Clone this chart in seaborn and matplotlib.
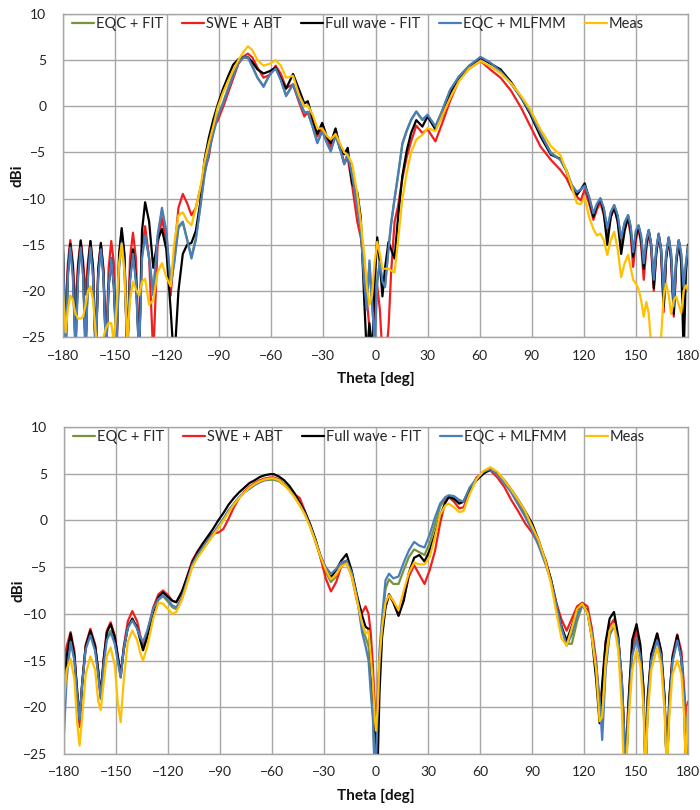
import matplotlib
matplotlib.use("Agg")
import matplotlib.pyplot as plt
import pandas as pd
import seaborn as sns

# ---------------- data: top panel ----------------
theta_top = [
    -180, -178.5, -177.2, -175.8, -174.3, -172.8, -171.3, -169.8, -168.4, -167,
    -165.6, -164.2, -162.7, -161.2, -159.7, -158.2, -156.7, -155.2, -153.7, -152.2,
    -150.7, -149.2, -147.7, -146.2, -144.6, -143, -141.4, -139.7, -138, -136.2,
    -134.5, -132.7, -130.4, -128, -125.5, -123, -120.5, -118,
    -116, -113.5, -111, -108.5, -106, -103.5, -101, -98.5, -96, -93.5,
    -91, -88, -85, -82, -79, -76, -73.5, -71, -68, -64.5,
    -61, -57.5, -54.5, -51.5, -47.5, -44, -41, -39, -36, -33.5,
    -30.7, -28, -25.8, -23, -20.5, -18, -16, -13.5, -10.5,
    -8.5, -6.5, -5, -3.5, -2, -0.5, 1, 2.5, 4, 5.5,
    7.5, 9, 11, 13, 15.5, 18, 20.5, 23.5, 27, 30,
    34.5, 38.5, 43, 48, 54, 60.5, 66, 72, 78, 84,
    89, 95, 101, 106.5, 110, 113,
    116, 118.3, 120.5, 123, 125.5, 127.5, 129.5, 131.5, 133.5, 135.5,
    137.5, 139.5, 141.5, 143.5, 145.5, 147, 148.4, 150, 151.5, 153,
    154.5, 156, 157.4, 158.8, 160.3, 161.7, 163.1, 164.5, 166, 167.4,
    168.9, 170.3, 171.8, 173.2, 174.7, 176.1, 177.5, 178.8, 180]

eqc_fit_top = [
    -15.6, -26, -18.3, -15.2, -18.3, -26, -18.3, -15.2, -18.3, -26,
    -18.3, -15.2, -18.3, -26, -18.3, -15.4, -18.3, -26, -19.3, -16.4,
    -19.3, -26, -17.3, -14.6, -17.3, -26, -18.8, -15.8, -18.8, -26,
    -16.3, -13.8, -16.3, -20.3, -14.2, -11.3, -13.7, -19.3,
    -17, -13.2, -12.6, -14.4, -16.3, -14.3, -11, -7.3, -4.8, -2.9,
    -1.1, 0.3, 1.9, 3.4, 4.7, 5.3, 5.3, 4.4, 3.1, 2.2,
    3.4, 4.2, 2.9, 1.2, 2.4, 0.6, -0.6, -0.7, -2.3, -3.9,
    -2.6, -3.9, -4.8, -3.1, -4.5, -6.2, -5.1, -7.4, -10.8,
    -13.3, -18.8, -22, -17, -21.5, -25, -19, -17, -19.2, -19.4,
    -15.3, -12.6, -10, -7.4, -4.1, -2.7, -1.5, -0.6, -1.5, -1.0,
    -2.2, -0.5, 1.7, 3.2, 4.4, 5.3, 4.7, 3.8, 2.5, 0.9,
    -0.6, -2.9, -5.0, -5.8, -7.0, -8.6,
    -9.3, -9.0, -8.6, -9.8, -11.7, -10.6, -10, -11.1, -13.4, -11.5,
    -10.7, -11.9, -14.5, -12.6, -11.8, -13.1, -16, -13.5, -12.9, -14.1,
    -17.2, -14.5, -13.4, -15, -19, -15.5, -13.8, -15.5, -20.5, -16,
    -14.2, -16, -21.8, -16.5, -14.5, -16, -19.8, -17, -15.3]

swe_abt_top = [
    -24.3, -22, -17, -14.5, -17, -22, -17, -14.5, -16.8, -20.4,
    -16.8, -14.6, -17.5, -27, -17.5, -14.9, -17.5, -27, -17.5, -14.6,
    -17, -27, -16.5, -13.5, -16.5, -27, -16.5, -13.7, -16.5, -27,
    -15.5, -13, -16.5, -27, -15, -12.2, -14.5, -20.5,
    -16, -11, -9.5, -10.5, -11.8, -11, -9, -7, -5.5, -2.3,
    -1.6, -0.2, 1.4, 3.0, 4.6, 5.4, 5.7, 5.3, 4.2, 3.1,
    3.4, 4.4, 3.5, 2.0, 2.35, 0.4, -1.1, -0.6, -1.8, -3.25,
    -2.2, -3.5, -4.35, -2.5, -4.3, -6.2, -5.6, -8.5, -12.5,
    -14.2, -16.5, -21, -24, -27, -22, -19.5, -22, -27, -28,
    -24, -18, -12.5, -10.8, -7.8, -5.5, -3.8, -2.1, -2.9, -2.5,
    -3.8, -1.8, 0.6, 2.8, 4.1, 4.9, 4.0, 3.1, 1.7, -0.2,
    -2.1, -4.35, -5.8, -6.9, -7.8, -9.0,
    -9.8, -10.2, -9.0, -10.5, -12.3, -11.2, -10.4, -11.8, -14, -12,
    -11, -12.5, -15, -13, -12.2, -14, -17.4, -14.5, -13.2, -15,
    -18.8, -15.5, -13.6, -15.5, -20, -16, -13.9, -16, -22.3, -16.5,
    -14.3, -16.8, -22.8, -17, -14.6, -16.5, -19.8, -17.5, -16.1]

full_wave_top = [
    -15.0, -27, -18, -14.9, -17.5, -26, -17.5, -14.6, -17.5, -27,
    -17.5, -14.6, -17.5, -27, -17.8, -14.8, -18, -27, -19.5, -16.5,
    -19.5, -26, -16, -13.2, -16, -27, -18.5, -15.5, -18.5, -27,
    -13.5, -10.4, -12.5, -17.5, -14.5, -13.3, -15.5, -22,
    -28, -20, -16, -15, -14.8, -13.5, -10.5, -5.8, -3.4, -1.5,
    0.1, 1.8, 3.2, 4.5, 5.1, 5.3, 5.3, 4.8, 4.0, 3.55,
    3.8, 4.2, 3.0, 1.9, 3.5, 1.8, 0.3, 0.55, -1.5, -3.0,
    -1.8, -3.3, -4.0, -2.4, -4.6, -5.2, -4.5, -8.4, -9.3,
    -12, -21, -27, -23.5, -27, -19, -14.2, -17, -20.6, -17.5,
    -14.7, -15.5, -16.5, -12, -7.5, -4.8, -2.9, -1.5, -2.2, -1.1,
    -2.5, -1.0, 1.4, 3.1, 4.3, 5.25, 4.65, 4.0, 2.65, 0.9,
    -0.8, -3.25, -5.25, -5.7, -7.0, -8.8,
    -9.6, -9.0, -8.35, -10, -12, -10.8, -10, -11.5, -15, -12,
    -10.9, -12.5, -16, -13.5, -12, -13.5, -16.3, -14, -13, -14.5,
    -17.6, -15, -13.5, -15, -19.7, -16, -13.9, -15.5, -21.7, -16.5,
    -14.3, -16.5, -22.5, -17, -14.6, -17, -27, -18, -15]

eqc_mlfmm_top = [
    -15.8, -27, -18.5, -15.3, -18.5, -27, -18.5, -15.3, -18.5, -27,
    -18.5, -15.3, -18.5, -27, -18.5, -15.5, -18.5, -27, -19.5, -16.5,
    -19.5, -27, -17.5, -14.8, -17.5, -27, -19, -16, -19, -27,
    -16.5, -14, -16.5, -20.5, -14, -11, -13.5, -19.5,
    -17, -13, -12.5, -14.5, -16.5, -14.5, -11, -7.5, -5, -3,
    -1.2, 0.2, 1.8, 3.3, 4.7, 5.3, 5.3, 4.3, 3.1, 2.1,
    3.4, 4.1, 2.8, 1.1, 2.35, 0.6, -0.7, -0.6, -2.4, -4.0,
    -2.7, -4.0, -4.9, -3.2, -4.6, -6.3, -5.2, -7.5, -11,
    -13.5, -19, -22, -16.7, -21, -26, -19, -16.8, -19, -19.6,
    -15.5, -12.8, -10, -7.5, -4.0, -2.6, -1.45, -0.55, -1.45, -0.9,
    -2.2, -0.4, 1.8, 3.2, 4.4, 5.35, 4.75, 3.8, 2.5, 0.9,
    -0.6, -2.9, -5.1, -5.8, -7.0, -8.5,
    -9.3, -9.0, -8.6, -9.8, -11.6, -10.6, -10, -11, -13.2, -11.5,
    -10.7, -11.8, -14.3, -12.6, -11.8, -13, -15.8, -13.5, -12.9, -14,
    -17, -14.5, -13.4, -15, -18.8, -15.5, -13.8, -15.5, -20.3, -16,
    -14.2, -16, -21.7, -16.5, -14.5, -16, -19.6, -17, -15.2]

meas_top = [
    -20, -24.5, -22, -20.5, -21, -22.5, -23, -23, -22.8, -21.5,
    -20, -19.5, -21, -24.5, -27, -27, -25, -24, -23.5, -23.5,
    -25.5, -22, -17, -14.9, -18, -25.5, -21, -19, -19.8, -20.5,
    -19, -18.7, -21.5, -21, -18, -17, -18.5, -19.5,
    -15, -11.8, -11.5, -12.4, -12.9, -11, -9, -6, -4, -2.2,
    -0.2, 1.4, 2.7, 3.9, 5.0, 5.9, 6.5, 6.1, 5.0, 4.4,
    4.6, 5.0, 4.4, 3.1, 3.3, 1.2, 0.0, 0.1, -1.0, -2.4,
    -2.4, -3.2, -3.6, -3.0, -4.0, -5.0, -5.3, -6.2, -9.5,
    -12.5, -16, -19.5, -21.5, -20.5, -17, -14.7, -16, -17.6, -17.6,
    -17.6, -17.8, -18, -14.5, -10, -7.2, -5.0, -3.6, -3.1, -2.35,
    -2.7, -1.0, 0.9, 2.7, 4.1, 4.9, 4.35, 3.6, 2.5, 1.1,
    -0.3, -2.5, -4.3, -5.3, -7.0, -8.7,
    -10.5, -10.6, -9.9, -12, -13.3, -14, -13.8, -14.5, -16.1, -14.5,
    -13.6, -15.5, -18.5, -17, -16.1, -17.5, -18.8, -19.2, -19.8, -21,
    -22.8, -21.2, -22.5, -26, -28, -28, -28, -25, -20.5, -19.2,
    -20.5, -22.5, -21, -20.6, -21.5, -22.4, -20, -19.4, -19.9]

# ---------------- data: bottom panel ----------------
theta_bot = [
    -180, -178.5, -176.2, -174, -172.5, -171, -169.5, -167.5, -164.8, -162,
    -160.3, -158.8, -157.2, -155.3, -153.1, -150.7, -149, -147.3, -145.5, -143.2,
    -140.6, -137.8, -136, -134.4, -132, -128.5, -125.5, -122.9, -120, -117.5,
    -115.2, -112, -109,
    -106, -103, -100, -97, -94, -91, -88, -85, -82, -79,
    -76, -73, -70, -67, -64, -61, -59, -56, -53, -50,
    -47, -44, -41, -38, -35, -32, -29, -26, -23, -20,
    -17, -14, -11, -8,
    -6, -4.3, -3, -1.8, -0.8, 0, 1, 2, 3.5, 5.5,
    7.5, 10, 13, 16, 19, 22, 25, 28, 31, 34,
    37, 40, 42, 45, 48, 50.5,
    54, 58, 62, 66, 70, 74, 78, 82, 86, 90,
    94, 98, 101, 104, 107, 110, 113, 116, 119, 122,
    124.5, 127, 129, 130.5, 132.5, 134.8, 137.3, 139.8, 141.8, 143,
    144.2, 145.5, 147.8, 150.3, 152.5, 154.3, 155.5, 156.7, 158.8, 162.2,
    164.5, 166.5, 167.8, 169.2, 171, 173.8, 176.2, 177.8, 178.8, 180]

eqc_fit_bot = [
    -19.6, -16, -12.6, -14.8, -18.3, -21, -17.3, -13.6, -12.1, -13.8,
    -16.3, -18.8, -15.3, -12.5, -11.8, -13, -14.8, -16.6, -13.6, -11.3,
    -10.6, -11.5, -12.5, -13.1, -12, -9.6, -8.5, -8.1, -8.7, -9.3,
    -9.5, -8.4, -6.6,
    -4.8, -3.9, -3.1, -2.3, -1.6, -0.8, 0.1, 1.0, 1.7, 2.4,
    3.0, 3.4, 3.8, 4.1, 4.3, 4.35, 4.35, 4.2, 3.8, 3.3,
    2.6, 1.8, 0.8, -0.6, -2.2, -4.0, -5.5, -6.6, -6.0, -4.8,
    -4.3, -5.6, -8.2, -11.5,
    -12.5, -13.5, -17, -21, -26, -27, -21, -15.5, -11, -7.3,
    -6.3, -6.8, -6.8, -5.3, -3.9, -3.1, -3.4, -3.7, -2.4, -0.5,
    1.5, 2.3, 2.6, 2.4, 2.0, 2.0,
    3.4, 4.4, 5.1, 5.5, 5.0, 4.2, 3.2, 1.9, 0.6, -0.8,
    -2.6, -4.6, -6.3, -8.8, -11.2, -13.2, -13.2, -10.8, -9.1, -9.8,
    -12.2, -15.5, -19.5, -21.5, -15.5, -12, -11.1, -12.8, -17, -22,
    -27, -21, -14.2, -12.3, -14.2, -18.5, -27, -20, -14.8, -12.6,
    -14.3, -19.3, -27, -20, -15, -12.6, -14.6, -19, -22, -21.5]

swe_abt_bot = [
    -15, -13.5, -11.95, -14, -18.5, -22.1, -17.5, -13.3, -11.6, -13.3,
    -16, -19.1, -15, -11.8, -10.9, -12.3, -14.5, -16.8, -13.5, -10.8,
    -9.7, -10.8, -12.3, -13.4, -12, -9.3, -7.9, -7.5, -8.0, -8.6,
    -8.75, -7.8, -6.0,
    -4.3, -3.3, -2.5, -1.8, -1.4, -1.3, -0.9, 0.2, 1.4, 2.4,
    3.1, 3.6, 4.0, 4.3, 4.5, 4.6, 4.6, 4.4, 3.9, 3.3,
    2.8, 2.4, 1.0, -0.5, -2.0, -4.0, -6.2, -7.6, -6.6, -4.9,
    -4.5, -6.0, -8.6, -9.9,
    -9.2, -10, -12.1, -15.5, -19.5, -22, -19, -15, -11.2, -9.2,
    -8.0, -8.8, -10.2, -8.4, -6.0, -4.8, -5.8, -6.8, -5.3, -3.3,
    -0.3, 2.0, 2.5, 2.0, 1.3, 1.4,
    3.0, 4.6, 5.1, 5.35, 4.6, 3.6, 2.2, 1.0, -0.3, -1.3,
    -2.6, -4.3, -6.4, -8.8, -10.6, -11.8, -10.5, -9.2, -8.8, -9.2,
    -11.5, -15, -20.5, -18, -13, -11.3, -10.6, -12.8, -17, -22,
    -27, -20, -13.5, -11.8, -13.8, -18, -27, -19.5, -14.5, -12.1,
    -14, -19, -27, -19.5, -14.5, -12.2, -14, -18, -21, -19.4]

full_wave_bot = [
    -18.2, -14.6, -12.1, -14.5, -18, -21.4, -17.5, -13.5, -11.8, -13.5,
    -16, -18.7, -15, -12, -11.1, -12.5, -14.5, -16.4, -13.8, -11.5,
    -10.5, -11.5, -12.8, -13.9, -12.5, -9.8, -8.2, -7.7, -8.2, -8.6,
    -8.75, -7.6, -6.1,
    -4.5, -3.4, -2.5, -1.7, -0.9, 0.0, 0.8, 1.7, 2.4, 3.0,
    3.5, 4.0, 4.3, 4.65, 4.85, 4.95, 4.95, 4.7, 4.3, 3.7,
    2.9, 1.9, 0.9, -0.4, -2.0, -3.8, -5.3, -6.1, -5.3, -4.3,
    -3.6, -5.4, -8.0, -10.2,
    -11.4, -11.6, -14.5, -18.5, -22, -23.5, -26, -18.5, -12.5, -9.3,
    -7.9, -8.7, -10.2, -8.6, -5.6, -4.0, -3.7, -4.4, -3.2, -1.5,
    0.5, 1.9, 2.5, 2.3, 1.8, 2.0,
    3.3, 4.3, 5.0, 5.5, 5.1, 4.3, 3.3, 2.2, 1.0, -0.3,
    -2.2, -4.5, -6.4, -9.0, -11.4, -12.85, -11.3, -9.6, -8.9, -9.8,
    -12.5, -17, -21.7, -17.5, -13, -10.5, -9.8, -12.5, -17.5, -22,
    -27, -20, -12.8, -11.1, -13.3, -18, -27, -19, -14.3, -12.1,
    -14, -19, -27, -19, -14.8, -12.3, -14.8, -20, -27, -21]

eqc_mlfmm_bot = [
    -22.8, -17, -13, -15, -18.5, -21.4, -17.5, -13.8, -12.3, -14,
    -16.5, -19.1, -15.5, -12.8, -12, -13.2, -15, -16.8, -13.8, -11.5,
    -10.7, -11.6, -12.5, -13, -11.8, -9.5, -8.4, -8.0, -8.5, -9.1,
    -9.3, -8.3, -6.5,
    -4.7, -3.7, -2.9, -2.1, -1.4, -0.6, 0.2, 1.1, 1.8, 2.5,
    3.0, 3.4, 3.8, 4.1, 4.35, 4.45, 4.45, 4.3, 3.9, 3.3,
    2.5, 1.7, 0.7, -0.6, -2.2, -3.8, -5.0, -5.7, -5.2, -4.5,
    -4.3, -5.6, -8.2, -12,
    -13.5, -15, -18.5, -21, -27, -26, -20, -14, -10.4, -6.4,
    -5.7, -6.2, -6.0, -4.5, -3.2, -2.3, -2.7, -2.9, -1.5, 0.3,
    1.8, 2.5, 2.7, 2.6, 2.2, 2.0,
    3.5, 4.5, 5.2, 5.5, 4.9, 4.0, 3.0, 1.7, 0.4, -1.0,
    -2.8, -4.8, -6.5, -9.0, -11.5, -13.4, -12.2, -10.2, -9.1, -9.8,
    -12, -15.5, -19, -23.5, -16, -12.3, -11.3, -12.8, -17, -22,
    -27, -21, -14.5, -12.7, -14.5, -19, -27, -20, -15, -12.85,
    -14.5, -19.5, -27, -20, -15.2, -12.85, -14.8, -19, -22, -22.5]

meas_bot = [
    -19.3, -16, -14.8, -17, -21.5, -24.1, -21, -16.5, -14.55, -16,
    -19.3, -20.3, -17.5, -14.5, -13.6, -15.5, -19.5, -21.6, -17, -13,
    -11.8, -12.8, -14.2, -15, -13.5, -10.5, -8.8, -8.9, -9.5, -10,
    -9.8, -8.5, -6.8,
    -5.0, -4.0, -3.2, -2.4, -1.6, -0.8, 0.0, 0.9, 1.7, 2.4,
    3.0, 3.5, 3.9, 4.2, 4.4, 4.5, 4.5, 4.3, 3.8, 3.2,
    2.5, 1.6, 0.6, -0.7, -2.2, -3.9, -5.3, -6.3, -5.8, -4.9,
    -4.6, -6.0, -8.5, -11,
    -12.1, -11.8, -14.5, -17.5, -21, -22.5, -20, -15, -11.5, -8.8,
    -8.0, -8.6, -9.6, -7.5, -5.6, -4.5, -4.7, -4.7, -3.9, -1.8,
    0.6, 1.6, 1.8, 1.4, 0.9, 1.0,
    2.8, 4.4, 5.3, 5.7, 5.2, 4.3, 3.3, 2.2, 1.0, -0.6,
    -2.2, -4.5, -6.8, -9.8, -12.6, -13.4, -11.5, -9.5, -8.9, -9.9,
    -12.5, -16, -21.5, -21, -15, -11.8, -11.1, -14, -20, -27,
    -27, -22, -16, -13.9, -15.5, -20, -27, -21, -16, -13.6,
    -15.5, -20.5, -27, -21, -16.5, -15, -16.5, -21, -27, -19.9]

series_names = ["EQC + FIT", "SWE + ABT", "Full wave - FIT", "EQC + MLFMM", "Meas"]
series_colors = ["#77933C", "#F01E1E", "#000000", "#4A7EBB", "#FFC000"]
x_ticks = [-180, -150, -120, -90, -60, -30, 0, 30, 60, 90, 120, 150, 180]
y_ticks = [-25, -20, -15, -10, -5, 0, 5, 10]

top_series = [eqc_fit_top, swe_abt_top, full_wave_top, eqc_mlfmm_top, meas_top]
bot_series = [eqc_fit_bot, swe_abt_bot, full_wave_bot, eqc_mlfmm_bot, meas_bot]

# ---------------- plotting ----------------
sns.set_style("white")
plt.rcParams["font.family"] = ["Lato", "DejaVu Sans"]

fig = plt.figure(figsize=(7.0, 8.1), dpi=100)
ax_top = fig.add_axes([63 / 700, 1 - 337 / 810, 625 / 700, 323 / 810])
ax_bot = fig.add_axes([64 / 700, 1 - 754 / 810, 624 / 700, 327 / 810])

grid_col = "#A6A6A6"

for ax, theta, series in [(ax_top, theta_top, top_series), (ax_bot, theta_bot, bot_series)]:
    for name, col, vals in zip(series_names, series_colors, series):
        df = pd.DataFrame({"theta": theta, "dBi": vals})
        sns.lineplot(data=df, x="theta", y="dBi", ax=ax, color=col, label=name,
                     linewidth=1.6, estimator=None, sort=False)
    ax.set_xlim(-180, 180)
    ax.set_ylim(-25, 10)
    ax.set_xticks(x_ticks)
    ax.set_yticks(y_ticks)
    ax.grid(True, color=grid_col, linewidth=1.0)
    ax.set_axisbelow(True)
    for sp in ax.spines.values():
        sp.set_color(grid_col)
        sp.set_linewidth(1.0)
    ax.tick_params(axis="both", which="major", length=4, width=1.0, color=grid_col,
                   labelsize=10, labelcolor="#222222", direction="out")
    ax.tick_params(axis="x", pad=5)
    ax.tick_params(axis="y", pad=8)
    ax.set_xlabel("Theta [deg]", fontsize=11, fontweight="bold", color="#111111")
    ax.set_ylabel("dBi", fontsize=11, fontweight="bold", color="#111111")
    ax.yaxis.set_label_coords(-0.062, 0.5)
    ax.legend(loc="center left", bbox_to_anchor=(0.014, 0.968), ncol=5, frameon=False,
              handlelength=1.5, handletextpad=0.15, columnspacing=1.3,
              borderpad=0, borderaxespad=0, fontsize=10.5)

ax_top.xaxis.set_label_coords(0.5, -0.108)
ax_bot.xaxis.set_label_coords(0.5, -0.108)

fig.savefig("out.png", dpi=100)
